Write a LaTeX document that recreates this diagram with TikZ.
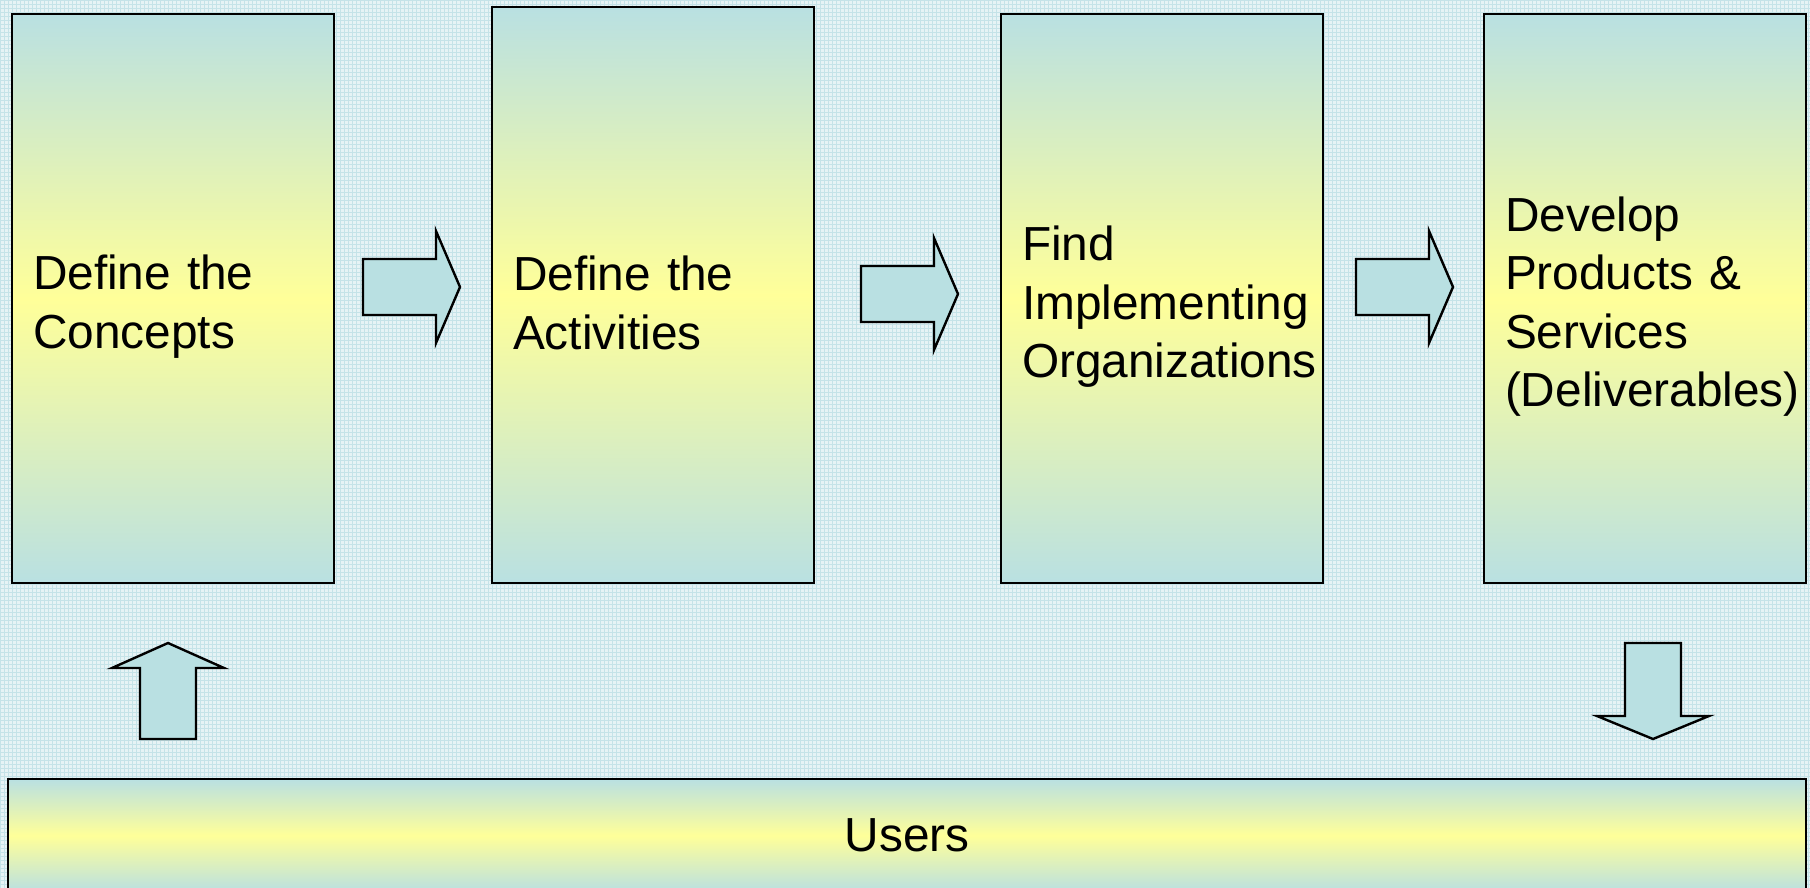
\documentclass[tikz,border=0pt]{standalone}
\usepackage{fontspec}
\setmainfont{Liberation Sans}
\usetikzlibrary{positioning}
\definecolor{Teal}{HTML}{B9E0E2}
\definecolor{Butter}{HTML}{FFFF99}
\definecolor{Paper}{HTML}{E6F3F5}
\definecolor{Mesh}{HTML}{C5E3E8}

\begin{document}
\begin{tikzpicture}[x=0.5pt,y=-0.5pt,
    panel/.style={draw,line width=1.3pt,outer sep=0pt,anchor=north west,top color=Teal,bottom color=Teal,middle color=Butter,font=\fontsize{23.9}{29.3}\selectfont},
    stage/.style={panel,minimum width=161pt,text width=140pt,inner xsep=10.5pt,align=left,execute at begin node=\rule{0pt}{25.5pt}},
    blockarrow/.style={draw,line width=1.2pt,fill=Teal,line join=miter}]
  \useasboundingbox (0,0) rectangle (1810,888);
  \fill[Paper] (0,0) rectangle (1810,888);
  \draw[Mesh,line width=0.5pt,step=2pt,shift={(0.5,0.5)}] (-4,-4) grid (1814,892);
  \node[stage,minimum height=284.5pt] (concepts) at (12,14) {Define the\\Concepts};
  \node[stage,minimum height=288pt] (activities) at (492,7) {Define the\\Activities};
  \node[stage,minimum height=284.5pt] (orgs) at (1001,14) {Find\\Implementing\\Organizations};
  \node[stage,minimum height=284.5pt] (deliver) at (1484,14) {Develop\\Products \&\\Services\\(Deliverables)};
  \node[panel,minimum width=899pt,minimum height=56.5pt] (users) at (8,779) {Users};
  \draw[blockarrow] (363,259) -- (436,259) -- (436,231) -- (460,287) -- (436,343) -- (436,315) -- (363,315) -- cycle;
  \draw[blockarrow] (861,266) -- (934,266) -- (934,238) -- (958,294) -- (934,350) -- (934,322) -- (861,322) -- cycle;
  \draw[blockarrow] (1356,259) -- (1429,259) -- (1429,231) -- (1453,287) -- (1429,343) -- (1429,315) -- (1356,315) -- cycle;
  \draw[blockarrow] (140,739) -- (140,668) -- (112,668) -- (168,643) -- (224,668) -- (196,668) -- (196,739) -- cycle;
  \draw[blockarrow] (1625,643) -- (1681,643) -- (1681,716) -- (1709,716) -- (1653,739) -- (1597,716) -- (1625,716) -- cycle;
\end{tikzpicture}
\end{document}
